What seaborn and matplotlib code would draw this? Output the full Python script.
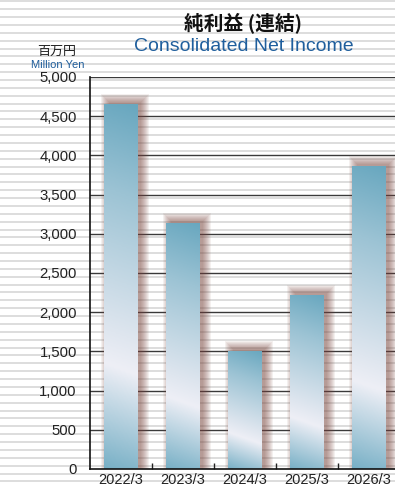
import numpy as np
import matplotlib
matplotlib.use("Agg")
import matplotlib.pyplot as plt
import seaborn as sns
import pandas as pd
from matplotlib.colors import LinearSegmentedColormap
from matplotlib.patches import Rectangle

categories = ["2022/3", "2023/3", "2024/3", "2025/3", "2026/3"]
values = [4650, 3140, 1510, 2220, 3870]
yticks = [0, 500, 1000, 1500, 2000, 2500, 3000, 3500, 4000, 4500, 5000]
ytick_labels = ["0", "500", "1,000", "1,500", "2,000", "2,500", "3,000", "3,500", "4,000", "4,500", "5,000"]
title_jp = "純利益 (連結)"
title_en = "Consolidated Net Income"
unit_jp = "百万円"
unit_en = "Million Yen"

sns.set_theme(style="white")
plt.rcParams['font.family'] = ['Liberation Sans', 'Noto Sans CJK JP', 'DejaVu Sans']

W, H = 395, 487
fig = plt.figure(figsize=(W / 100, H / 100), dpi=100)
fig.patch.set_facecolor("white")

# striped background
bg = fig.add_axes([0, 0, 1, 1], zorder=0)
bg.set_xlim(0, W)
bg.set_ylim(H, 0)
bg.axis("off")
for yy in np.arange(1.3, H, 7.87):
    bg.axhline(yy, color="#dadada", lw=1.3)

# main axes
ax_left, ax_bottom, ax_top = 90, 469, 77
cat_w = 62
ax_w = cat_w * 5
ax = fig.add_axes([ax_left / W, (H - ax_bottom) / H, ax_w / W, (ax_bottom - ax_top) / H], zorder=1)
ax.set_facecolor("none")

df = pd.DataFrame({"year": categories, "value": values})
sns.barplot(data=df, x="year", y="value", ax=ax, width=0.54, color="#6aa8c0",
            edgecolor="none", linewidth=0, zorder=3)

ax.set_xlim(-0.5, 4.5)
ax.set_ylim(0, 5000)
ax.set_xlabel("")
ax.set_ylabel("")

# grid lines
for t in yticks[1:]:
    ax.axhline(t, color="#3a3a3a", lw=1.0, zorder=1)

ax.set_yticks(yticks)
ax.set_yticklabels(ytick_labels)
ax.set_xticks(range(len(categories)))
ax.set_xticklabels(categories)
ax.set_xticks(np.arange(0.5, len(categories) - 0.5, 1), minor=True)
ax.tick_params(axis="y", length=0, pad=9.5, labelsize=10.7, labelcolor="#222222")
ax.tick_params(axis="x", which="major", length=0, pad=3.2, labelsize=10.5, labelcolor="#222222")
ax.tick_params(axis="x", which="minor", direction="in", length=4, width=1, color="#222222", bottom=True)

for s in ["top", "right"]:
    ax.spines[s].set_visible(False)
for s in ["left", "bottom"]:
    ax.spines[s].set_color("#111111")
    ax.spines[s].set_linewidth(1.2)
    ax.spines[s].set_zorder(6)

# gradient + shadow for bars
cmap = LinearSegmentedColormap.from_list(
    "barg", [(0.0, "#78b0c6"), (0.28, "#eeeff6"), (0.37, "#dfe6ef"), (0.75, "#9cc3d4"), (1.0, "#68a7bf")])
px_x = ax_w / 5.0          # pixels per x unit
px_y = (ax_bottom - ax_top) / 5000.0  # pixels per y unit
nx, ny = 40, 200
gx, gy = np.meshgrid(np.linspace(0, 1, nx), np.linspace(0, 1, ny))
for p in list(ax.patches):
    x0, w, h = p.get_x(), p.get_width(), p.get_height()
    hpx = h * px_y
    # shadow
    for r in range(0, 9):
        dx = 4.0 / px_x
        rr_x = (r - 1) / px_x
        rr_y = (r - 1) / px_y
        sh = Rectangle((x0 + dx - rr_x, 0), w + 2 * rr_x, h + 3.0 / px_y + rr_y,
                       facecolor="#7a463c", edgecolor="none", alpha=0.08, zorder=2)
        ax.add_patch(sh)
    t = (gy * hpx + gx * (w * px_x) * 0.35) / (hpx + w * px_x * 0.35)
    img = ax.imshow(t, cmap=cmap, vmin=0, vmax=1, origin="lower",
                    extent=[x0, x0 + w, 0, h], aspect="auto", zorder=4, interpolation="bilinear")
    img.set_clip_path(p)

# titles
fig.text(243 / W, 1 - 22.5 / H, title_jp, ha="center", va="center", fontsize=14.2,
         fontweight="bold", color="#111111", family=["Noto Sans CJK JP", "DejaVu Sans"])
fig.text(244 / W, 1 - 46.5 / H, title_en, ha="center", va="center", fontsize=14,
         color="#1f5e9c")
fig.text(57 / W, 1 - 51.5 / H, unit_jp, ha="center", va="center", fontsize=9.4,
         color="#222222", family=["Noto Sans CJK JP", "DejaVu Sans"])
fig.text(57.5 / W, 1 - 65 / H, unit_en, ha="center", va="center", fontsize=8,
         color="#1f5e9c")

fig.savefig("out.png", dpi=100)
